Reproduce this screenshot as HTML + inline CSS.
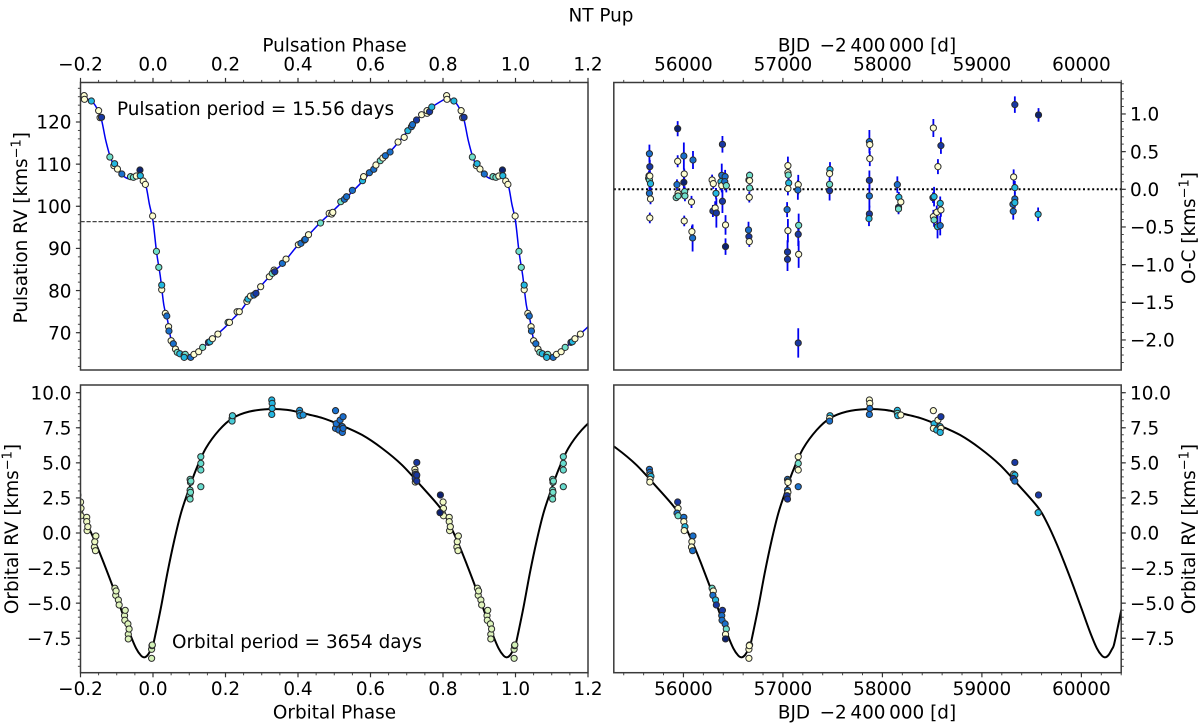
<!DOCTYPE html>
<html lang="en">
<head>
<meta charset="utf-8">
<title>NT Pup</title>
<style>
html,body{margin:0;padding:0;background:#fff;width:1200px;height:725px;overflow:hidden}
svg{display:block;filter:blur(.28px)}
text{font-family:"DejaVu Sans","Liberation Sans",sans-serif;fill:#000}
.t{font-size:18.4px}
</style>
</head>
<body>
<svg id="fig" xmlns="http://www.w3.org/2000/svg" width="1200" height="725" viewBox="0 0 1200 725">
  <rect width="1200" height="725" fill="#fff"/>
  <defs>
    <clipPath id="clip-tl"><rect x="80.5" y="82" width="507.5" height="288"/></clipPath>
    <clipPath id="clip-tr"><rect x="613.8" y="82" width="507.4" height="288"/></clipPath>
    <clipPath id="clip-bl"><rect x="80.5" y="385" width="507.5" height="287.7"/></clipPath>
    <clipPath id="clip-br"><rect x="613.8" y="385" width="507.4" height="287.7"/></clipPath>
  </defs>
  <text x="601" y="21.5" text-anchor="middle" class="t">NT Pup</text>
  <text x="334.5" y="51.7" text-anchor="middle" class="t">Pulsation Phase</text>
  <text x="867" y="51.7" text-anchor="middle" class="t">BJD&#8201; −2&#8201;400&#8201;000 [d]</text>
  <text x="334.5" y="718.3" text-anchor="middle" class="t">Orbital Phase</text>
  <text x="867" y="718.3" text-anchor="middle" class="t">BJD&#8201; −2&#8201;400&#8201;000 [d]</text>
  <text transform="translate(27 227.7) rotate(-90)" text-anchor="middle" class="t">Pulsation RV [kms<tspan dy="-6.5" font-size="13">−1</tspan><tspan dy="6.5">]</tspan></text>
  <text transform="translate(1195 228) rotate(-90)" text-anchor="middle" class="t">O-C [kms<tspan dy="-6.5" font-size="13">−1</tspan><tspan dy="6.5">]</tspan></text>
  <text transform="translate(18 529) rotate(-90)" text-anchor="middle" class="t">Orbital RV [kms<tspan dy="-6.5" font-size="13">−1</tspan><tspan dy="6.5">]</tspan></text>
  <text transform="translate(1195 529) rotate(-90)" text-anchor="middle" class="t">Orbital RV [kms<tspan dy="-6.5" font-size="13">−1</tspan><tspan dy="6.5">]</tspan></text>
  <text x="117" y="115" class="t">Pulsation period = 15.56 days</text>
  <text x="172" y="648" class="t">Orbital period = 3654 days</text>
</svg>
<script>
// ---------- tick data ----------
const phaseTicks = [-0.2, 0, 0.2, 0.4, 0.6, 0.8, 1.0, 1.2];
const phaseTickLabels = ['−0.2', '0.0', '0.2', '0.4', '0.6', '0.8', '1.0', '1.2'];
const bjdTicks = [56000, 57000, 58000, 59000, 60000];
const bjdTickLabels = ['56000', '57000', '58000', '59000', '60000'];
const pulseRvTicks = [70, 80, 90, 100, 110, 120];
const pulseRvTickLabels = ['70', '80', '90', '100', '110', '120'];
const ocTicks = [1, 0.5, 0, -0.5, -1, -1.5, -2];
const ocTickLabels = ['1.0', '0.5', '0.0', '−0.5', '−1.0', '−1.5', '−2.0'];
const orbRvTicks = [10, 7.5, 5, 2.5, 0, -2.5, -5, -7.5];
const orbRvTickLabels = ['10.0', '7.5', '5.0', '2.5', '0.0', '−2.5', '−5.0', '−7.5'];

// ---------- pulsation panel data ----------
const pulsePhase = [.810,.811,.830,.850,.854,.858,.881,.892,.894,.902,.914,.938,.946,.954,.964,.965,.973,.979,.999,
 .0095,.016,.024,.024,.034,.038,.043,.044,.050,.056,.062,.067,.074,.086,.089,.086,.104,.113,.126,.137,.153,.157,.164,.179,
 .207,.211,.232,.238,.259,.262,.269,.278,.284,.297,.321,.329,.334,.336,.357,.367,.401,.408,.418,.420,.429,.462,.486,.493,.496,
 .518,.528,.534,.550,.578,.581,.597,.609,.615,.627,.634,.641,.654,.676,.693,.703,.713,.716,.727,.741,.756,.756,.763,.769];
const pulseRv = [126.25,125.38,124.98,122.69,121.03,121.11,111.69,109.64,110.11,108.84,107.66,107.03,106.87,107.18,108.61,107.26,106.0,105.2,97.69,
 89.30,85.51,80.2,81.31,74.59,73.96,71.42,70.40,68.10,67.39,66.12,65.33,65.01,64.70,64.86,64.15,64.15,64.86,65.49,66.52,67.71,67.86,68.58,69.68,
 72.45,72.45,74.98,74.98,77.44,77.99,78.70,78.94,79.34,80.92,83.29,84.08,84.87,84.48,86.46,87.48,90.89,91.20,91.99,92.15,93.26,96.03,98.32,98.16,98.56,
 101.09,101.65,102.28,103.78,106.08,107.03,107.97,108.77,109.79,110.82,111.46,112.01,112.88,115.25,116.36,117.94,118.89,119.37,120.47,121.74,122.06,122.69,122.45,123.56];
const pulseColorClass = [0,0,2,0,0,4,1,0,2,0,3,1,1,0,5,2,0,0,0,
 1,1,0,2,0,3,0,3,0,3,0,1,2,0,1,2,3,0,0,1,4,2,0,0,
 1,0,0,0,0,2,0,3,4,0,0,1,0,4,3,0,0,3,3,3,0,1,0,0,0,
 1,3,3,3,2,0,3,3,0,1,0,3,3,0,0,2,3,3,4,0,0,0,4,2];
const pulseCurvePhase = [0,.01,.02,.03,.04,.05,.06,.07,.08,.09,.10,.11,.125,.14,.16,.18,.20,.21,.24,.26,.28,.30,.32,.34,.36,.40,.42,.46,.50,.54,.58,.62,.66,.70,.74,.77,.80,.81,.83,.845,.858,.87,.885,.90,.915,.93,.95,.965,.98,.99];
const pulseCurveRv = [96.5,89,83.5,76.5,73,68.3,66.2,65.1,64.5,64.1,64,64.5,65.4,66.7,68,69.8,71.4,72.4,75,77.3,79,81.3,83.2,85,86.6,90.8,92.3,96,99.2,102.6,106.1,110,113.5,117.6,121.6,123.6,125.2,125.6,125,123.3,120.5,115.5,111,108.9,107.4,106.6,106.6,107.2,105,100.5];
const pulseMeanRv = 96.35;

// ---------- O-C panel data ----------
const ocBjd = [55654,55650,55658,55658,55662,55662,55669,55658,55669,55662,
 55942,55942,55935,55946,55927,55946,56004,56008,56004,56012,56015,56008,56085,56081,56096,56092,
 56288,56300,56327,56296,56319,56331,56392,56385,56377,56392,56385,56419,56415,56431,56423,56423,
 56658,56665,56665,56665,56662,56654,56658,56662,
 57050,57050,57054,57058,57050,57042,57050,57046,57046,
 57154,57150,57158,57154,57158,57154,
 57473,57469,57469,57469,
 57869,57873,57873,57869,57869,57869,57865,
 58150,58165,58162,58162,58185,
 58512,58508,58519,58512,58519,58558,58546,58554,58581,58588,58581,58588,
 59319,59331,59331,59312,59331,59315,59331,59569,59565];
const ocValue = [.18,.146,.473,.124,.30,.177,.075,-.053,-.128,-.38,
 .805,.372,.062,-.053,-.11,-.088,.442,.204,.093,-.031,-.088,-.42,-.562,-.168,.389,-.646,
 .124,.075,-.053,-.288,-.248,-.314,.597,.186,.102,-.159,.049,.168,.102,.049,-.473,-.761,
 .124,.186,.115,.018,-.106,-.54,-.628,-.695,
 .314,.221,.19,.084,.009,-.27,-.549,-.832,-.929,
 .062,-.009,-.478,-.597,-.863,-2.04,
 .261,.208,.066,-.018,
 .633,.593,.407,.119,-.088,-.327,-.389,
 .062,-.106,-.239,-.261,-.168,
 .814,-.111,-.097,-.363,-.407,.301,-.305,-.496,-.186,-.274,-.482,.58,
 .164,.022,-.128,-.199,-.177,-.292,1.124,.987,-.332];
const ocError = [.07,.07,.12,.07,.09,.07,.09,.11,.07,.07,
 .10,.08,.07,.05,.04,.05,.18,.07,.09,.07,.07,.07,.08,.08,.12,.18,
 .07,.07,.07,.08,.09,.195,.11,.155,.11,.155,.09,.09,.09,.09,.13,.11,
 .04,.05,.04,.05,.07,.11,.09,.07,
 .12,.07,.07,.07,.09,.10,.155,.155,.155,
 .13,.13,.155,.155,.18,.195,
 .10,.07,.07,.13,
 .155,.07,.10,.13,.155,.11,.10,
 .11,.07,.04,.07,.05,
 .12,.07,.13,.09,.09,.10,.09,.155,.09,.09,.13,.11,
 .10,.09,.09,.07,.07,.11,.11,.09,.09];
const ocColorClass = [0,2,3,1,4,0,2,3,0,0,
 5,0,3,0,1,1,3,0,5,1,1,0,0,0,3,3,
 0,0,2,4,0,4,4,3,2,4,0,3,3,1,0,5,
 5,1,0,1,0,3,4,0,
 0,0,1,2,0,3,0,4,4,
 0,3,1,4,0,4,
 2,0,1,4,
 3,0,0,4,3,4,2,
 3,2,5,1,0,
 0,4,2,0,1,0,0,2,2,0,3,4,
 0,2,3,3,2,3,4,5,2];

// ---------- orbital RV panel data ----------
const orbitPeriod = 3654;
const orbitEpoch = 56672;
const obsBjd = [55658,55662,55665,55673,55665,55662,
 55942,55946,55935,55946,56004,56004,56015,56008,56096,56085,56081,56092,
 56288,56300,56296,56323,56331,56392,56385,56388,56419,56431,56423,56423,
 56658,56665,56662,56658,
 57046,57054,57050,57046,57050,57042,57046,
 57154,57154,57154,57154,57473,57469,57469,
 57869,57873,57873,57869,58150,58150,58154,58185,
 58512,58519,58512,58546,58558,58588,58581,58588,58581,
 59331,59319,59331,59315,59331,59569,59565];
const obsRv = [4.54,4.32,4.13,4.04,3.82,3.63,
 2.21,1.76,1.42,1.23,1.12,.81,.45,.17,-.21,-.62,-1.0,-1.26,
 -3.94,-4.13,-4.44,-4.77,-5.13,-5.51,-5.89,-6.22,-6.48,-6.84,-7.22,-7.55,
 -8.29,-7.98,-8.03,-8.93,
 3.82,3.70,3.61,3.06,2.90,2.66,2.42,
 5.44,4.96,4.49,3.30,8.36,8.17,7.98,
 9.48,9.24,8.88,8.45,8.74,8.53,8.36,8.41,
 8.72,7.79,7.46,7.34,8.05,8.29,7.58,7.46,7.17,
 5.03,4.2,4.13,3.89,3.70,2.71,1.45];
const obsPulseColorClass = [3,3,0,2,0,0,
 4,0,3,1,3,0,2,0,3,0,0,3,
 1,0,3,2,4,4,3,3,3,1,0,5,
 0,1,0,0,
 3,2,0,3,0,4,4,
 0,1,0,3,2,0,3,
 0,0,3,3,2,1,2,0,
 0,2,0,2,0,4,2,0,2,
 4,0,2,4,3,4,2];
const orbCurvePhase = [0,.0083,.022,.0404,.0589,.077,.0954,.1183,.1458,.1826,.2192,.2651,.32,.37,.4026,.4667,.5217,.5767,.6317,.6867,.7417,.7921,.8157,.8432,.8663,.8892,.912,.9351,.9533,.967,.9763,.9854,.9945];
const orbCurveRv = [-8.0,-7.03,-5.3,-2.76,-.5,1.4,2.85,4.49,6.04,7.34,8.18,8.65,8.83,8.78,8.60,8.2,7.65,6.99,6.04,4.85,3.30,1.8,.75,-.8,-2.28,-3.83,-5.45,-7.1,-8.22,-8.74,-8.86,-8.70,-8.3];

// ---------- styling ----------
const classColors = ['#fefed2', '#70e0cc', '#22b8e0', '#1a70cc', '#1838a4', '#0c2270'];
const timeStops = [0, .26, .36, .56, .73, .94, 1];
const timeStopColors = [[252,252,200], [211,242,184], [110,224,204], [36,184,226], [26,114,210], [24,54,160], [12,32,112]];

// ---------- axis functions ----------
const L = {x0: 80.5, x1: 588};
const R = {x0: 613.8, x1: 1121.2};
const T = {y0: 82.5, y1: 370};
const B = {y0: 385, y1: 672.7};
const phaseXL = p => L.x0 + (p + 0.2) / 1.4 * (L.x1 - L.x0);
const phaseXB = phaseXL;
const bjdX = d => R.x0 + (d - 55300) / 5100 * (R.x1 - R.x0);
const pulseY = v => 122 + (120 - v) * 4.214;
const ocY = v => 189.3 - v * 75.33;
const orbY = v => 533 - v * 14.03;

const svg = document.getElementById('fig');
const NS = 'http://www.w3.org/2000/svg';
function el(tag, attrs, parent) {
  const e = document.createElementNS(NS, tag);
  for (const k in attrs) e.setAttribute(k, attrs[k]);
  (parent || svg).appendChild(e);
  return e;
}
function group(name, clip) {
  const g = el('g', clip ? {'clip-path': 'url(#' + clip + ')'} : {});
  
  
  return g;
}
function smoothPath(xs, ys) {
  let d = 'M' + xs[0].toFixed(2) + ' ' + ys[0].toFixed(2);
  for (let i = 0; i < xs.length - 1; i++) {
    const a = Math.max(i - 1, 0), b = Math.min(i + 2, xs.length - 1);
    const c1x = xs[i] + (xs[i + 1] - xs[a]) / 6, c1y = ys[i] + (ys[i + 1] - ys[a]) / 6;
    const c2x = xs[i + 1] - (xs[b] - xs[i]) / 6, c2y = ys[i + 1] - (ys[b] - ys[i]) / 6;
    d += 'C' + c1x.toFixed(2) + ' ' + c1y.toFixed(2) + ' ' + c2x.toFixed(2) + ' ' + c2y.toFixed(2) + ' ' + xs[i + 1].toFixed(2) + ' ' + ys[i + 1].toFixed(2);
  }
  return d;
}
function repeatPeriodic(ph, val, cycles) {
  const px = [], py = [];
  cycles.forEach(k => ph.forEach((p, i) => { px.push(p + k); py.push(val[i]); }));
  return {px, py};
}
function timeColor(d) {
  const t = (d - 55658) / (59569 - 55658);
  let i = 0;
  while (i < timeStops.length - 2 && t > timeStops[i + 1]) i++;
  const f = Math.max(0, Math.min(1, (t - timeStops[i]) / (timeStops[i + 1] - timeStops[i])));
  const c = timeStopColors[i].map((v, j) => Math.round(v + (timeStopColors[i + 1][j] - v) * f));
  return 'rgb(' + c.join(',') + ')';
}
function dot(parent, x, y, fill, name) {
  const c = el('circle', {cx: x.toFixed(2), cy: y.toFixed(2), r: 3.1, fill: fill, stroke: '#2a2a2a', 'stroke-width': 1}, parent);
  
  
  return c;
}
function line(parent, x1, y1, x2, y2, w, color) {
  return el('line', {x1: x1, y1: y1, x2: x2, y2: y2, stroke: color || '#333', 'stroke-width': w}, parent);
}

// ---------- spines and ticks ----------
function panelFrame(name, box) {
  const g = group(name + '-frame');
  const r = el('rect', {x: box.x0, y: box.y0, width: box.x1 - box.x0, height: box.y1 - box.y0, fill: 'none', stroke: '#3a3a3a', 'stroke-width': 1.5}, g);
  
  
}
function xTicks(name, ticks, labels, minorStart, minorStep, minorEnd, xf, yLine, dir, labelY) {
  const g = group(name);
  for (let v = minorStart; v <= minorEnd + 1e-6; v += minorStep) {
    const x = xf(v);
    const m = line(g, x, yLine, x, yLine + dir * 2.6, 0.9);
    
    
  }
  ticks.forEach((v, i) => {
    const x = xf(v);
    const m = line(g, x, yLine, x, yLine + dir * 4.6, 1.2);
    
    
    const t = el('text', {x: x, y: labelY, 'text-anchor': 'middle', class: 't'}, g);
    t.textContent = labels[i];
    
    
  });
}
function yTicks(name, ticks, labels, minorStart, minorStep, minorEnd, yf, xLine, dir, labelX) {
  const g = group(name);
  for (let v = minorStart; v <= minorEnd + 1e-6; v += minorStep) {
    const y = yf(v);
    const m = line(g, xLine, y, xLine + dir * 2.6, y, 0.9);
    
    
  }
  ticks.forEach((v, i) => {
    const y = yf(v);
    const m = line(g, xLine, y, xLine + dir * 4.6, y, 1.2);
    
    
    const t = el('text', {x: labelX, y: y + 6.7, 'text-anchor': dir < 0 ? 'end' : 'start', class: 't'}, g);
    t.textContent = labels[i];
    
    
  });
}

// ---------- top-left: pulsation curve ----------
const tl = group('pulsation-series', 'clip-tl');
const meanLine = line(tl, L.x0, pulseY(pulseMeanRv), L.x1, pulseY(pulseMeanRv), 1.2, '#444');
meanLine.setAttribute('stroke-dasharray', '4.2 1.8');


const pc = repeatPeriodic(pulseCurvePhase, pulseCurveRv, [-1, 0, 1]);
const pulseCurve = el('path', {d: smoothPath(pc.px.map(phaseXL), pc.py.map(pulseY)), fill: 'none', stroke: '#0000f0', 'stroke-width': 1.5}, tl);


[-1, 0, 1].forEach(k => pulsePhase.forEach((p, i) => {
  const ph = p + k;
  if (ph < -0.2 || ph > 1.2) return;
  dot(tl, phaseXL(ph), pulseY(pulseRv[i]), classColors[pulseColorClass[i]], 'pulsation-point');
}));

// ---------- top-right: O-C ----------
const tr = group('o-c-series', 'clip-tr');
const zeroLine = line(tr, R.x0, ocY(0), R.x1, ocY(0), 2, '#000');
zeroLine.setAttribute('stroke-dasharray', '2 2.6');


ocBjd.forEach((d, i) => {
  const b = line(tr, bjdX(d), ocY(ocValue[i] + ocError[i]), bjdX(d), ocY(ocValue[i] - ocError[i]), 1.8, '#0000f0');
  
  
});
ocBjd.forEach((d, i) => {
  dot(tr, bjdX(d), ocY(ocValue[i]), classColors[ocColorClass[i]], 'o-c-point');
});

// ---------- bottom-left: orbital phase ----------
const bl = group('orbital-phase-series', 'clip-bl');
const oc1 = repeatPeriodic(orbCurvePhase, orbCurveRv, [-1, 0, 1]);
const orbCurveL = el('path', {d: smoothPath(oc1.px.map(phaseXB), oc1.py.map(orbY)), fill: 'none', stroke: '#000', 'stroke-width': 2}, bl);


obsBjd.map((d, i) => i).sort((a, b) => obsBjd[a] - obsBjd[b]).forEach(i => {
  const base = ((obsBjd[i] - orbitEpoch) / orbitPeriod % 1 + 1) % 1;
  [-1, 0, 1].forEach(k => {
    const ph = base + k;
    if (ph < -0.21 || ph > 1.21) return;
    dot(bl, phaseXB(ph), orbY(obsRv[i]), timeColor(obsBjd[i]), 'orbital-phase-point');
  });
});

// ---------- bottom-right: orbital time ----------
const br = group('orbital-time-series', 'clip-br');
const orbCurveR = el('path', {d: smoothPath(oc1.px.map(p => bjdX(orbitEpoch + p * orbitPeriod)), oc1.py.map(orbY)), fill: 'none', stroke: '#000', 'stroke-width': 2}, br);


obsBjd.forEach((d, i) => {
  dot(br, bjdX(d), orbY(obsRv[i]), classColors[obsPulseColorClass[i]], 'orbital-time-point');
});

// ---------- frames and axes ----------
panelFrame('pulsation-panel', {x0: L.x0, x1: L.x1, y0: T.y0, y1: T.y1});
panelFrame('o-c-panel', {x0: R.x0, x1: R.x1, y0: T.y0, y1: T.y1});
panelFrame('orbital-phase-panel', {x0: L.x0, x1: L.x1, y0: B.y0, y1: B.y1});
panelFrame('orbital-time-panel', {x0: R.x0, x1: R.x1, y0: B.y0, y1: B.y1});

xTicks('pulsation-phase-axis', phaseTicks, phaseTickLabels, -0.2, 0.05, 1.2, phaseXL, T.y0, -1, 70.7);
xTicks('top-bjd-axis', bjdTicks, bjdTickLabels, 55400, 200, 60400, bjdX, T.y0, -1, 70.7);
xTicks('orbital-phase-axis', phaseTicks, phaseTickLabels, -0.2, 0.05, 1.2, phaseXB, B.y1, 1, 695);
xTicks('bottom-bjd-axis', bjdTicks, bjdTickLabels, 55400, 200, 60400, bjdX, B.y1, 1, 695);
yTicks('pulsation-rv-axis', pulseRvTicks, pulseRvTickLabels, 62, 2, 128, pulseY, L.x0, -1, 71.5);
yTicks('o-c-axis', ocTicks, ocTickLabels, -2.3, 0.1, 1.4, ocY, R.x1, 1, 1130);
yTicks('orbital-rv-axis-left', orbRvTicks, orbRvTickLabels, -9.5, 0.5, 10, orbY, L.x0, -1, 71.5);
yTicks('orbital-rv-axis-right', orbRvTicks, orbRvTickLabels, -9.5, 0.5, 10, orbY, R.x1, 1, 1130);
</script>
</body>
</html>
